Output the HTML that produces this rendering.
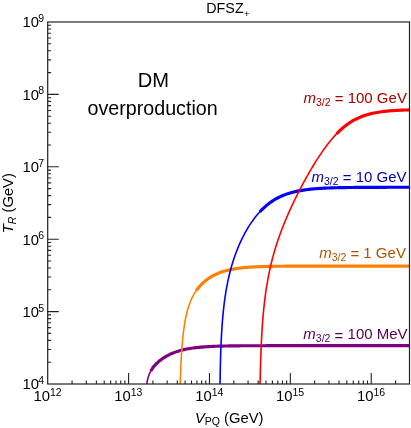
<!DOCTYPE html><html><head><meta charset="utf-8"><title>DFSZ+</title><style>.t,.t text,.t tspan{font-family:"Liberation Sans",sans-serif}html,body{margin:0;padding:0;background:#fff}body{width:411px;height:428px;overflow:hidden;font-family:"Liberation Sans",sans-serif}</style></head><body><svg width="411" height="428" viewBox="0 0 411 428" style="display:block;will-change:transform">
<rect width="411" height="428" fill="#fff"/>
<clipPath id="c"><rect x="47.7" y="22.0" width="361.8" height="362.0"/></clipPath>
<g clip-path="url(#c)" fill="none" stroke-linejoin="round">
<path d="M146.67,385.45 L146.84,383.95 L147.05,382.46 L147.30,380.97 L147.61,379.49 L147.97,378.03 L148.39,376.58 L148.89,375.16 L149.45,373.76 L150.08,372.39 L150.78,371.05 L151.55,369.76 L152.38,368.50 L153.26,367.28 L154.20,366.10 L155.20,364.96 L156.23,363.87 L157.31,362.81 L158.42,361.80 L159.57,360.82 L160.76,359.89 L161.97,358.99 L163.21,358.14 L164.48,357.32 L165.77,356.54 L167.09,355.80 L168.42,355.10 L169.77,354.43 L171.14,353.80 L172.53,353.21 L173.93,352.65 L175.34,352.13 L176.77,351.63 L178.20,351.17 L179.65,350.74 L181.10,350.34 L182.56,349.97 L184.03,349.63 L185.51,349.31 L186.98,349.01 L188.47,348.74 L189.95,348.48 L191.44,348.25 L192.94,348.03 L194.43,347.84 L195.93,347.65 L197.43,347.49 L198.93,347.33 L200.43,347.19 L201.93,347.06 L203.43,346.94 L204.94,346.83 L206.44,346.73 L207.95,346.64 L209.45,346.56 L210.96,346.48 L212.46,346.41 L213.97,346.35 L215.48,346.29 L216.98,346.23 L218.49,346.18 L220.00,346.14 L221.51,346.10 L223.01,346.06 L224.52,346.03 L226.03,346.00 L227.54,345.97 L229.04,345.94 L230.55,345.92 L232.06,345.89 L233.57,345.87 L235.07,345.86 L236.58,345.84 L238.09,345.82 L239.60,345.81 L241.11,345.80 L242.61,345.79 L244.12,345.78 L245.63,345.77 L247.14,345.76 L248.65,345.75 L250.15,345.74 L251.66,345.73 L253.17,345.73 L254.68,345.72 L256.19,345.72 L257.69,345.71 L259.20,345.71 L260.71,345.71 L262.22,345.70 L263.72,345.70 L265.23,345.70 L266.74,345.69 L268.25,345.69 L269.76,345.69 L271.26,345.69 L272.77,345.68 L274.28,345.68 L275.79,345.68 L277.30,345.68 L278.80,345.68 L280.31,345.68 L281.82,345.68 L283.33,345.67 L284.84,345.67 L286.34,345.67 L287.85,345.67 L289.36,345.67 L290.87,345.67 L292.37,345.67 L293.88,345.67 L295.39,345.67 L296.90,345.67 L298.41,345.67 L299.91,345.67 L301.42,345.67 L302.93,345.67 L304.44,345.67 L305.95,345.67 L307.45,345.67 L308.96,345.67 L310.47,345.67 L311.98,345.67 L313.49,345.67 L314.99,345.67 L316.50,345.67 L318.01,345.67 L319.52,345.67 L321.03,345.67 L322.53,345.67 L324.04,345.67 L325.55,345.67 L327.06,345.67 L328.56,345.66 L330.07,345.66 L331.58,345.66 L333.09,345.66 L334.60,345.66 L336.10,345.66 L337.61,345.66 L339.12,345.66 L340.63,345.66 L342.14,345.66 L343.64,345.66 L345.15,345.66 L346.66,345.66 L348.17,345.66 L349.68,345.66 L351.18,345.66 L352.69,345.66 L354.20,345.66 L355.71,345.66 L357.22,345.66 L358.72,345.66 L360.23,345.66 L361.74,345.66 L363.25,345.66 L364.75,345.66 L366.26,345.66 L367.77,345.66 L369.28,345.66 L370.79,345.66 L372.29,345.66 L373.80,345.66 L375.31,345.66 L376.82,345.66 L378.33,345.66 L379.83,345.66 L381.34,345.66 L382.85,345.66 L384.36,345.66 L385.87,345.66 L387.37,345.66 L388.88,345.66 L390.39,345.66 L391.90,345.66 L393.41,345.66 L394.91,345.66 L396.42,345.66 L397.93,345.66 L399.44,345.66 L400.94,345.66 L402.45,345.66 L403.96,345.66 L405.47,345.66 L406.98,345.66 L408.48,345.66 L409.99,345.66 L411.50,345.66" stroke="#800080" stroke-width="1.6"/>
<path d="M150.78,371.05 L151.55,369.76 L152.38,368.50 L153.26,367.28 L154.20,366.10 L155.20,364.96 L156.23,363.87 L157.31,362.81 L158.42,361.80 L159.57,360.82 L160.76,359.89 L161.97,358.99 L163.21,358.14 L164.48,357.32 L165.77,356.54 L167.09,355.80 L168.42,355.10 L169.77,354.43 L171.14,353.80 L172.53,353.21 L173.93,352.65 L175.34,352.13 L176.77,351.63 L178.20,351.17 L179.65,350.74 L181.10,350.34 L182.56,349.97 L184.03,349.63 L185.51,349.31 L186.98,349.01 L188.47,348.74 L189.95,348.48 L191.44,348.25 L192.94,348.03 L194.43,347.84 L195.93,347.65 L197.43,347.49 L198.93,347.33 L200.43,347.19 L201.93,347.06 L203.43,346.94 L204.94,346.83 L206.44,346.73 L207.95,346.64 L209.45,346.56 L210.96,346.48 L212.46,346.41 L213.97,346.35 L215.48,346.29 L216.98,346.23 L218.49,346.18 L220.00,346.14 L221.51,346.10 L223.01,346.06 L224.52,346.03 L226.03,346.00 L227.54,345.97 L229.04,345.94 L230.55,345.92 L232.06,345.89 L233.57,345.87 L235.07,345.86 L236.58,345.84 L238.09,345.82 L239.60,345.81 L241.11,345.80 L242.61,345.79 L244.12,345.78 L245.63,345.77 L247.14,345.76 L248.65,345.75 L250.15,345.74 L251.66,345.73 L253.17,345.73 L254.68,345.72 L256.19,345.72 L257.69,345.71 L259.20,345.71 L260.71,345.71 L262.22,345.70 L263.72,345.70 L265.23,345.70 L266.74,345.69 L268.25,345.69 L269.76,345.69 L271.26,345.69 L272.77,345.68 L274.28,345.68 L275.79,345.68 L277.30,345.68 L278.80,345.68 L280.31,345.68 L281.82,345.68 L283.33,345.67 L284.84,345.67 L286.34,345.67 L287.85,345.67 L289.36,345.67 L290.87,345.67 L292.37,345.67 L293.88,345.67 L295.39,345.67 L296.90,345.67 L298.41,345.67 L299.91,345.67 L301.42,345.67 L302.93,345.67 L304.44,345.67 L305.95,345.67 L307.45,345.67 L308.96,345.67 L310.47,345.67 L311.98,345.67 L313.49,345.67 L314.99,345.67 L316.50,345.67 L318.01,345.67 L319.52,345.67 L321.03,345.67 L322.53,345.67 L324.04,345.67 L325.55,345.67 L327.06,345.67 L328.56,345.66 L330.07,345.66 L331.58,345.66 L333.09,345.66 L334.60,345.66 L336.10,345.66 L337.61,345.66 L339.12,345.66 L340.63,345.66 L342.14,345.66 L343.64,345.66 L345.15,345.66 L346.66,345.66 L348.17,345.66 L349.68,345.66 L351.18,345.66 L352.69,345.66 L354.20,345.66 L355.71,345.66 L357.22,345.66 L358.72,345.66 L360.23,345.66 L361.74,345.66 L363.25,345.66 L364.75,345.66 L366.26,345.66 L367.77,345.66 L369.28,345.66 L370.79,345.66 L372.29,345.66 L373.80,345.66 L375.31,345.66 L376.82,345.66 L378.33,345.66 L379.83,345.66 L381.34,345.66 L382.85,345.66 L384.36,345.66 L385.87,345.66 L387.37,345.66 L388.88,345.66 L390.39,345.66 L391.90,345.66 L393.41,345.66 L394.91,345.66 L396.42,345.66 L397.93,345.66 L399.44,345.66 L400.94,345.66 L402.45,345.66 L403.96,345.66 L405.47,345.66 L406.98,345.66 L408.48,345.66 L409.99,345.66 L411.50,345.66" stroke="#800080" stroke-width="3.15" stroke-linecap="butt"/>
<path d="M180.16,385.45 L180.20,383.95 L180.25,382.45 L180.29,380.95 L180.34,379.45 L180.39,377.95 L180.44,376.45 L180.49,374.95 L180.55,373.45 L180.61,371.95 L180.67,370.45 L180.73,368.95 L180.79,367.45 L180.86,365.95 L180.93,364.45 L181.00,362.95 L181.08,361.45 L181.15,359.95 L181.24,358.45 L181.32,356.95 L181.41,355.46 L181.50,353.96 L181.60,352.46 L181.70,350.96 L181.81,349.46 L181.92,347.97 L182.03,346.47 L182.15,344.97 L182.28,343.48 L182.41,341.98 L182.54,340.49 L182.69,338.99 L182.84,337.50 L182.99,336.01 L183.16,334.52 L183.33,333.03 L183.51,331.54 L183.70,330.05 L183.90,328.56 L184.11,327.07 L184.34,325.59 L184.57,324.11 L184.81,322.62 L185.07,321.15 L185.34,319.67 L185.63,318.20 L185.93,316.73 L186.25,315.26 L186.59,313.80 L186.95,312.34 L187.33,310.89 L187.72,309.44 L188.15,308.00 L188.59,306.57 L189.07,305.14 L189.57,303.73 L190.10,302.32 L190.66,300.93 L191.25,299.55 L191.88,298.19 L192.54,296.84 L193.24,295.51 L193.97,294.20 L194.75,292.92 L195.55,291.65 L196.40,290.41 L197.29,289.20 L198.21,288.02 L199.17,286.86 L200.16,285.74 L201.19,284.64 L202.26,283.59 L203.35,282.56 L204.48,281.57 L205.64,280.62 L206.83,279.70 L208.04,278.82 L209.29,277.98 L210.55,277.17 L211.84,276.41 L213.15,275.68 L214.49,274.98 L215.84,274.33 L217.21,273.71 L218.59,273.13 L219.99,272.59 L221.40,272.08 L222.82,271.60 L224.26,271.16 L225.70,270.75 L227.15,270.36 L228.61,270.01 L230.08,269.68 L231.55,269.38 L233.02,269.10 L234.50,268.84 L235.98,268.60 L237.47,268.39 L238.95,268.19 L240.44,268.00 L241.94,267.84 L243.43,267.68 L244.92,267.54 L246.42,267.41 L247.91,267.29 L249.41,267.19 L250.91,267.09 L252.41,267.00 L253.91,266.92 L255.41,266.84 L256.90,266.77 L258.40,266.71 L259.90,266.66 L261.40,266.60 L262.90,266.56 L264.41,266.51 L265.91,266.47 L267.41,266.44 L268.91,266.41 L270.41,266.38 L271.91,266.35 L273.41,266.33 L274.91,266.30 L276.41,266.28 L277.91,266.26 L279.41,266.25 L280.91,266.23 L282.41,266.22 L283.92,266.20 L285.42,266.19 L286.92,266.18 L288.42,266.17 L289.92,266.16 L291.42,266.16 L292.92,266.15 L294.42,266.14 L295.92,266.14 L297.42,266.13 L298.93,266.13 L300.43,266.12 L301.93,266.12 L303.43,266.11 L304.93,266.11 L306.43,266.11 L307.93,266.10 L309.43,266.10 L310.93,266.10 L312.43,266.10 L313.94,266.10 L315.44,266.09 L316.94,266.09 L318.44,266.09 L319.94,266.09 L321.44,266.09 L322.94,266.09 L324.44,266.09 L325.94,266.08 L327.44,266.08 L328.95,266.08 L330.45,266.08 L331.95,266.08 L333.45,266.08 L334.95,266.08 L336.45,266.08 L337.95,266.08 L339.45,266.08 L340.95,266.08 L342.45,266.08 L343.96,266.08 L345.46,266.08 L346.96,266.08 L348.46,266.08 L349.96,266.08 L351.46,266.08 L352.96,266.08 L354.46,266.08 L355.96,266.08 L357.46,266.08 L358.97,266.08 L360.47,266.08 L361.97,266.08 L363.47,266.08 L364.97,266.08 L366.47,266.08 L367.97,266.08 L369.47,266.08 L370.97,266.08 L372.47,266.08 L373.98,266.08 L375.48,266.08 L376.98,266.08 L378.48,266.08 L379.98,266.08 L381.48,266.08 L382.98,266.08 L384.48,266.08 L385.98,266.08 L387.48,266.08 L388.99,266.08 L390.49,266.08 L391.99,266.08 L393.49,266.08 L394.99,266.08 L396.49,266.08 L397.99,266.08 L399.49,266.08 L400.99,266.08 L402.49,266.08 L404.00,266.08 L405.50,266.08 L407.00,266.08 L408.50,266.08 L410.00,266.08 L411.50,266.08" stroke="#ff8000" stroke-width="1.6"/>
<path d="M196.40,290.41 L197.29,289.20 L198.21,288.02 L199.17,286.86 L200.16,285.74 L201.19,284.64 L202.26,283.59 L203.35,282.56 L204.48,281.57 L205.64,280.62 L206.83,279.70 L208.04,278.82 L209.29,277.98 L210.55,277.17 L211.84,276.41 L213.15,275.68 L214.49,274.98 L215.84,274.33 L217.21,273.71 L218.59,273.13 L219.99,272.59 L221.40,272.08 L222.82,271.60 L224.26,271.16 L225.70,270.75 L227.15,270.36 L228.61,270.01 L230.08,269.68 L231.55,269.38 L233.02,269.10 L234.50,268.84 L235.98,268.60 L237.47,268.39 L238.95,268.19 L240.44,268.00 L241.94,267.84 L243.43,267.68 L244.92,267.54 L246.42,267.41 L247.91,267.29 L249.41,267.19 L250.91,267.09 L252.41,267.00 L253.91,266.92 L255.41,266.84 L256.90,266.77 L258.40,266.71 L259.90,266.66 L261.40,266.60 L262.90,266.56 L264.41,266.51 L265.91,266.47 L267.41,266.44 L268.91,266.41 L270.41,266.38 L271.91,266.35 L273.41,266.33 L274.91,266.30 L276.41,266.28 L277.91,266.26 L279.41,266.25 L280.91,266.23 L282.41,266.22 L283.92,266.20 L285.42,266.19 L286.92,266.18 L288.42,266.17 L289.92,266.16 L291.42,266.16 L292.92,266.15 L294.42,266.14 L295.92,266.14 L297.42,266.13 L298.93,266.13 L300.43,266.12 L301.93,266.12 L303.43,266.11 L304.93,266.11 L306.43,266.11 L307.93,266.10 L309.43,266.10 L310.93,266.10 L312.43,266.10 L313.94,266.10 L315.44,266.09 L316.94,266.09 L318.44,266.09 L319.94,266.09 L321.44,266.09 L322.94,266.09 L324.44,266.09 L325.94,266.08 L327.44,266.08 L328.95,266.08 L330.45,266.08 L331.95,266.08 L333.45,266.08 L334.95,266.08 L336.45,266.08 L337.95,266.08 L339.45,266.08 L340.95,266.08 L342.45,266.08 L343.96,266.08 L345.46,266.08 L346.96,266.08 L348.46,266.08 L349.96,266.08 L351.46,266.08 L352.96,266.08 L354.46,266.08 L355.96,266.08 L357.46,266.08 L358.97,266.08 L360.47,266.08 L361.97,266.08 L363.47,266.08 L364.97,266.08 L366.47,266.08 L367.97,266.08 L369.47,266.08 L370.97,266.08 L372.47,266.08 L373.98,266.08 L375.48,266.08 L376.98,266.08 L378.48,266.08 L379.98,266.08 L381.48,266.08 L382.98,266.08 L384.48,266.08 L385.98,266.08 L387.48,266.08 L388.99,266.08 L390.49,266.08 L391.99,266.08 L393.49,266.08 L394.99,266.08 L396.49,266.08 L397.99,266.08 L399.49,266.08 L400.99,266.08 L402.49,266.08 L404.00,266.08 L405.50,266.08 L407.00,266.08 L408.50,266.08 L410.00,266.08 L411.50,266.08" stroke="#ff8000" stroke-width="3.15" stroke-linecap="butt"/>
<path d="M220.01,385.45 L220.03,383.94 L220.05,382.44 L220.07,380.94 L220.09,379.43 L220.12,377.93 L220.14,376.43 L220.17,374.92 L220.20,373.42 L220.23,371.91 L220.26,370.41 L220.29,368.91 L220.32,367.40 L220.36,365.90 L220.39,364.40 L220.43,362.89 L220.47,361.39 L220.51,359.89 L220.55,358.38 L220.60,356.88 L220.64,355.38 L220.69,353.87 L220.74,352.37 L220.79,350.87 L220.85,349.36 L220.91,347.86 L220.97,346.36 L221.03,344.85 L221.09,343.35 L221.16,341.85 L221.23,340.35 L221.30,338.85 L221.38,337.34 L221.46,335.84 L221.54,334.34 L221.63,332.84 L221.72,331.34 L221.81,329.84 L221.91,328.33 L222.01,326.83 L222.11,325.33 L222.22,323.83 L222.34,322.33 L222.46,320.84 L222.58,319.34 L222.71,317.84 L222.84,316.34 L222.98,314.84 L223.12,313.34 L223.27,311.85 L223.43,310.35 L223.59,308.86 L223.75,307.36 L223.93,305.87 L224.11,304.37 L224.29,302.88 L224.48,301.39 L224.68,299.90 L224.89,298.41 L225.10,296.92 L225.33,295.43 L225.56,293.95 L225.79,292.46 L226.04,290.98 L226.29,289.50 L226.56,288.02 L226.83,286.54 L227.11,285.06 L227.40,283.58 L227.69,282.11 L228.00,280.64 L228.32,279.17 L228.65,277.70 L228.98,276.23 L229.33,274.77 L229.69,273.31 L230.06,271.85 L230.43,270.39 L230.82,268.94 L231.22,267.49 L231.63,266.05 L232.06,264.60 L232.49,263.16 L232.93,261.73 L233.39,260.29 L233.86,258.86 L234.34,257.44 L234.83,256.02 L235.34,254.60 L235.85,253.19 L236.38,251.78 L236.92,250.38 L237.47,248.98 L238.04,247.58 L238.62,246.20 L239.21,244.81 L239.82,243.44 L240.44,242.07 L241.07,240.70 L241.71,239.34 L242.37,237.99 L243.05,236.65 L243.73,235.31 L244.44,233.98 L245.15,232.66 L245.89,231.34 L246.63,230.04 L247.39,228.74 L248.17,227.45 L248.97,226.18 L249.78,224.91 L250.60,223.65 L251.45,222.41 L252.31,221.17 L253.19,219.95 L254.08,218.75 L255.00,217.55 L255.93,216.37 L256.88,215.21 L257.86,214.06 L258.85,212.93 L259.86,211.82 L260.89,210.73 L261.95,209.65 L263.02,208.60 L264.12,207.57 L265.24,206.57 L266.38,205.59 L267.54,204.63 L268.72,203.70 L269.92,202.80 L271.15,201.92 L272.39,201.08 L273.66,200.27 L274.94,199.48 L276.24,198.73 L277.57,198.01 L278.90,197.33 L280.26,196.67 L281.63,196.05 L283.01,195.46 L284.41,194.90 L285.82,194.37 L287.23,193.88 L288.66,193.41 L290.10,192.97 L291.55,192.56 L293.00,192.17 L294.46,191.81 L295.93,191.48 L297.40,191.16 L298.87,190.87 L300.35,190.60 L301.84,190.35 L303.32,190.11 L304.81,189.90 L306.30,189.69 L307.79,189.51 L309.29,189.33 L310.78,189.17 L312.28,189.03 L313.78,188.89 L315.28,188.76 L316.78,188.65 L318.28,188.54 L319.78,188.44 L321.28,188.35 L322.78,188.26 L324.28,188.19 L325.78,188.11 L327.29,188.05 L328.79,187.98 L330.29,187.93 L331.79,187.88 L333.30,187.83 L334.80,187.78 L336.30,187.74 L337.81,187.70 L339.31,187.67 L340.81,187.64 L342.32,187.61 L343.82,187.58 L345.33,187.56 L346.83,187.53 L348.33,187.51 L349.84,187.49 L351.34,187.47 L352.85,187.46 L354.35,187.44 L355.85,187.43 L357.36,187.42 L358.86,187.40 L360.36,187.39 L361.87,187.38 L363.37,187.37 L364.88,187.36 L366.38,187.36 L367.88,187.35 L369.39,187.34 L370.89,187.34 L372.40,187.33 L373.90,187.32 L375.40,187.32 L376.91,187.32 L378.41,187.31 L379.92,187.31 L381.42,187.30 L382.92,187.30 L384.43,187.30 L385.93,187.30 L387.44,187.29 L388.94,187.29 L390.44,187.29 L391.95,187.29 L393.45,187.28 L394.96,187.28 L396.46,187.28 L397.96,187.28 L399.47,187.28 L400.97,187.28 L402.48,187.28 L403.98,187.28 L405.48,187.27 L406.99,187.27 L408.49,187.27 L410.00,187.27 L411.50,187.27" stroke="#0000ff" stroke-width="1.6"/>
<path d="M259.86,211.82 L260.89,210.73 L261.95,209.65 L263.02,208.60 L264.12,207.57 L265.24,206.57 L266.38,205.59 L267.54,204.63 L268.72,203.70 L269.92,202.80 L271.15,201.92 L272.39,201.08 L273.66,200.27 L274.94,199.48 L276.24,198.73 L277.57,198.01 L278.90,197.33 L280.26,196.67 L281.63,196.05 L283.01,195.46 L284.41,194.90 L285.82,194.37 L287.23,193.88 L288.66,193.41 L290.10,192.97 L291.55,192.56 L293.00,192.17 L294.46,191.81 L295.93,191.48 L297.40,191.16 L298.87,190.87 L300.35,190.60 L301.84,190.35 L303.32,190.11 L304.81,189.90 L306.30,189.69 L307.79,189.51 L309.29,189.33 L310.78,189.17 L312.28,189.03 L313.78,188.89 L315.28,188.76 L316.78,188.65 L318.28,188.54 L319.78,188.44 L321.28,188.35 L322.78,188.26 L324.28,188.19 L325.78,188.11 L327.29,188.05 L328.79,187.98 L330.29,187.93 L331.79,187.88 L333.30,187.83 L334.80,187.78 L336.30,187.74 L337.81,187.70 L339.31,187.67 L340.81,187.64 L342.32,187.61 L343.82,187.58 L345.33,187.56 L346.83,187.53 L348.33,187.51 L349.84,187.49 L351.34,187.47 L352.85,187.46 L354.35,187.44 L355.85,187.43 L357.36,187.42 L358.86,187.40 L360.36,187.39 L361.87,187.38 L363.37,187.37 L364.88,187.36 L366.38,187.36 L367.88,187.35 L369.39,187.34 L370.89,187.34 L372.40,187.33 L373.90,187.32 L375.40,187.32 L376.91,187.32 L378.41,187.31 L379.92,187.31 L381.42,187.30 L382.92,187.30 L384.43,187.30 L385.93,187.30 L387.44,187.29 L388.94,187.29 L390.44,187.29 L391.95,187.29 L393.45,187.28 L394.96,187.28 L396.46,187.28 L397.96,187.28 L399.47,187.28 L400.97,187.28 L402.48,187.28 L403.98,187.28 L405.48,187.27 L406.99,187.27 L408.49,187.27 L410.00,187.27 L411.50,187.27" stroke="#0000ff" stroke-width="3.15" stroke-linecap="butt"/>
<path d="M260.06,385.45 L260.08,383.94 L260.11,382.44 L260.14,380.94 L260.17,379.43 L260.20,377.93 L260.23,376.43 L260.27,374.92 L260.30,373.42 L260.34,371.92 L260.37,370.41 L260.41,368.91 L260.45,367.41 L260.49,365.90 L260.54,364.40 L260.58,362.90 L260.63,361.40 L260.67,359.89 L260.72,358.39 L260.77,356.89 L260.83,355.38 L260.88,353.88 L260.94,352.38 L260.99,350.88 L261.06,349.37 L261.12,347.87 L261.18,346.37 L261.25,344.87 L261.32,343.36 L261.39,341.86 L261.46,340.36 L261.54,338.86 L261.62,337.36 L261.70,335.86 L261.79,334.35 L261.88,332.85 L261.97,331.35 L262.06,329.85 L262.16,328.35 L262.26,326.85 L262.36,325.35 L262.47,323.85 L262.58,322.35 L262.70,320.85 L262.81,319.35 L262.94,317.85 L263.06,316.36 L263.19,314.86 L263.33,313.36 L263.47,311.86 L263.61,310.37 L263.76,308.87 L263.91,307.37 L264.07,305.88 L264.24,304.38 L264.40,302.89 L264.58,301.40 L264.76,299.90 L264.94,298.41 L265.13,296.92 L265.33,295.43 L265.53,293.94 L265.74,292.45 L265.95,290.96 L266.17,289.47 L266.40,287.99 L266.63,286.50 L266.87,285.02 L267.12,283.53 L267.38,282.05 L267.64,280.57 L267.90,279.09 L268.18,277.61 L268.46,276.13 L268.75,274.66 L269.05,273.19 L269.36,271.71 L269.67,270.24 L269.99,268.77 L270.32,267.31 L270.66,265.84 L271.00,264.38 L271.35,262.91 L271.71,261.45 L272.08,260.00 L272.46,258.54 L272.84,257.09 L273.23,255.64 L273.63,254.19 L274.04,252.74 L274.46,251.29 L274.89,249.85 L275.32,248.41 L275.76,246.97 L276.21,245.54 L276.66,244.11 L277.13,242.68 L277.60,241.25 L278.08,239.82 L278.57,238.40 L279.06,236.98 L279.56,235.56 L280.07,234.15 L280.59,232.74 L281.11,231.33 L281.64,229.92 L282.18,228.51 L282.72,227.11 L283.27,225.71 L283.83,224.32 L284.39,222.92 L284.96,221.53 L285.54,220.14 L286.12,218.75 L286.71,217.37 L287.30,215.99 L287.90,214.61 L288.51,213.23 L289.12,211.86 L289.73,210.49 L290.35,209.12 L290.98,207.75 L291.61,206.38 L292.24,205.02 L292.89,203.66 L293.53,202.30 L294.18,200.95 L294.84,199.59 L295.50,198.24 L296.16,196.89 L296.83,195.55 L297.51,194.20 L298.18,192.86 L298.87,191.52 L299.55,190.18 L300.24,188.85 L300.94,187.52 L301.64,186.19 L302.35,184.86 L303.05,183.53 L303.77,182.21 L304.49,180.89 L305.21,179.57 L305.94,178.25 L306.67,176.94 L307.41,175.63 L308.15,174.32 L308.89,173.01 L309.65,171.71 L310.40,170.41 L311.16,169.12 L311.93,167.82 L312.70,166.53 L313.48,165.25 L314.27,163.96 L315.06,162.68 L315.85,161.41 L316.66,160.14 L317.47,158.87 L318.28,157.61 L319.11,156.35 L319.94,155.10 L320.78,153.85 L321.63,152.61 L322.48,151.37 L323.35,150.14 L324.22,148.92 L325.10,147.70 L326.00,146.49 L326.90,145.29 L327.82,144.09 L328.74,142.91 L329.68,141.73 L330.63,140.57 L331.59,139.41 L332.57,138.27 L333.56,137.14 L334.56,136.02 L335.58,134.91 L336.62,133.82 L337.67,132.75 L338.74,131.69 L339.82,130.65 L340.93,129.63 L342.05,128.63 L343.19,127.65 L344.35,126.69 L345.53,125.75 L346.72,124.85 L347.94,123.96 L349.18,123.11 L350.43,122.28 L351.71,121.48 L353.00,120.72 L354.31,119.98 L355.64,119.28 L356.99,118.61 L358.35,117.97 L359.73,117.36 L361.12,116.79 L362.52,116.25 L363.93,115.74 L365.36,115.26 L366.80,114.81 L368.24,114.40 L369.69,114.01 L371.15,113.64 L372.62,113.31 L374.09,112.99 L375.56,112.71 L377.04,112.44 L378.53,112.19 L380.01,111.96 L381.50,111.75 L382.99,111.56 L384.49,111.38 L385.98,111.22 L387.48,111.07 L388.97,110.93 L390.47,110.80 L391.97,110.69 L393.47,110.58 L394.97,110.48 L396.47,110.39 L397.98,110.31 L399.48,110.24 L400.98,110.17 L402.48,110.11 L403.98,110.05 L405.49,110.00 L406.99,109.95 L408.49,109.90 L410.00,109.86 L411.50,109.83" stroke="#ff0000" stroke-width="1.6"/>
<path d="M336.62,133.82 L337.67,132.75 L338.74,131.69 L339.82,130.65 L340.93,129.63 L342.05,128.63 L343.19,127.65 L344.35,126.69 L345.53,125.75 L346.72,124.85 L347.94,123.96 L349.18,123.11 L350.43,122.28 L351.71,121.48 L353.00,120.72 L354.31,119.98 L355.64,119.28 L356.99,118.61 L358.35,117.97 L359.73,117.36 L361.12,116.79 L362.52,116.25 L363.93,115.74 L365.36,115.26 L366.80,114.81 L368.24,114.40 L369.69,114.01 L371.15,113.64 L372.62,113.31 L374.09,112.99 L375.56,112.71 L377.04,112.44 L378.53,112.19 L380.01,111.96 L381.50,111.75 L382.99,111.56 L384.49,111.38 L385.98,111.22 L387.48,111.07 L388.97,110.93 L390.47,110.80 L391.97,110.69 L393.47,110.58 L394.97,110.48 L396.47,110.39 L397.98,110.31 L399.48,110.24 L400.98,110.17 L402.48,110.11 L403.98,110.05 L405.49,110.00 L406.99,109.95 L408.49,109.90 L410.00,109.86 L411.50,109.83" stroke="#ff0000" stroke-width="3.15" stroke-linecap="butt"/>
</g>
<rect x="47.7" y="22.0" width="361.8" height="362.0" fill="none" stroke="#222222" stroke-width="1.2"/>
<path d="M72.05,384.0v-3.4 M86.29,384.0v-3.4 M96.39,384.0v-3.4 M104.23,384.0v-3.4 M110.64,384.0v-3.4 M116.05,384.0v-3.4 M120.74,384.0v-3.4 M124.88,384.0v-3.4 M128.58,384.0v-11.1 M152.93,384.0v-3.4 M167.17,384.0v-3.4 M177.27,384.0v-3.4 M185.11,384.0v-3.4 M191.52,384.0v-3.4 M196.93,384.0v-3.4 M201.62,384.0v-3.4 M205.76,384.0v-3.4 M209.46,384.0v-11.1 M233.81,384.0v-3.4 M248.05,384.0v-3.4 M258.15,384.0v-3.4 M265.99,384.0v-3.4 M272.40,384.0v-3.4 M277.81,384.0v-3.4 M282.50,384.0v-3.4 M286.64,384.0v-3.4 M290.34,384.0v-11.1 M314.69,384.0v-3.4 M328.93,384.0v-3.4 M339.03,384.0v-3.4 M346.87,384.0v-3.4 M353.28,384.0v-3.4 M358.69,384.0v-3.4 M363.38,384.0v-3.4 M367.52,384.0v-3.4 M371.22,384.0v-11.1 M395.57,384.0v-3.4 M47.7,362.21h3.4 M47.7,349.46h3.4 M47.7,340.41h3.4 M47.7,333.39h3.4 M47.7,327.66h3.4 M47.7,322.81h3.4 M47.7,318.62h3.4 M47.7,314.91h3.4 M47.7,311.60h11.1 M47.7,289.81h3.4 M47.7,277.06h3.4 M47.7,268.01h3.4 M47.7,260.99h3.4 M47.7,255.26h3.4 M47.7,250.41h3.4 M47.7,246.22h3.4 M47.7,242.51h3.4 M47.7,239.20h11.1 M47.7,217.41h3.4 M47.7,204.66h3.4 M47.7,195.61h3.4 M47.7,188.59h3.4 M47.7,182.86h3.4 M47.7,178.01h3.4 M47.7,173.82h3.4 M47.7,170.11h3.4 M47.7,166.80h11.1 M47.7,145.01h3.4 M47.7,132.26h3.4 M47.7,123.21h3.4 M47.7,116.19h3.4 M47.7,110.46h3.4 M47.7,105.61h3.4 M47.7,101.42h3.4 M47.7,97.71h3.4 M47.7,94.40h11.1 M47.7,72.61h3.4 M47.7,59.86h3.4 M47.7,50.81h3.4 M47.7,43.79h3.4 M47.7,38.06h3.4 M47.7,33.21h3.4 M47.7,29.02h3.4 M47.7,25.31h3.4" stroke="#222222" stroke-width="1.1" fill="none"/>
<g class="t" fill="#000000" font-size="14.8">
<text x="33.43" y="401.20">10<tspan font-size="10.5" dx="0" dy="-5.5">12</tspan></text>
<text x="114.31" y="401.20">10<tspan font-size="10.5" dx="0" dy="-5.5">13</tspan></text>
<text x="195.19" y="401.20">10<tspan font-size="10.5" dx="0" dy="-5.5">14</tspan></text>
<text x="276.07" y="401.20">10<tspan font-size="10.5" dx="0" dy="-5.5">15</tspan></text>
<text x="356.95" y="401.20">10<tspan font-size="10.5" dx="0" dy="-5.5">16</tspan></text>
<text x="22.50" y="389.40">10<tspan font-size="10.5" dx="-0.6" dy="-5.5">4</tspan></text>
<text x="22.50" y="317.00">10<tspan font-size="10.5" dx="-0.6" dy="-5.5">5</tspan></text>
<text x="22.50" y="244.60">10<tspan font-size="10.5" dx="-0.6" dy="-5.5">6</tspan></text>
<text x="22.50" y="172.20">10<tspan font-size="10.5" dx="-0.6" dy="-5.5">7</tspan></text>
<text x="22.50" y="99.80">10<tspan font-size="10.5" dx="-0.6" dy="-5.5">8</tspan></text>
<text x="22.50" y="27.40">10<tspan font-size="10.5" dx="-0.6" dy="-5.5">9</tspan></text>
<text x="206.3" y="12.8" font-size="14.3">DFSZ<tspan font-size="9.6" dx="0.3" dy="4.6">+</tspan></text>
<text x="194.9" y="422.6"><tspan font-style="italic">V</tspan><tspan font-size="10.5" dy="2.6">PQ</tspan><tspan dy="-2.6"> (GeV)</tspan></text>
<text transform="translate(13.0,233.3) rotate(-90)"><tspan font-style="italic">T</tspan><tspan font-size="10.5" font-style="italic" dy="2.6">R</tspan><tspan dy="-2.6"> (GeV)</tspan></text>
<text font-size="20.1" text-anchor="middle" x="153.3" y="86.8">DM</text>
<text font-size="19.7" text-anchor="middle" x="152.6" y="115.1">overproduction</text>
<text font-size="15" text-anchor="end" x="406.9" y="102.6" fill="#aa0000"><tspan font-style="italic">m</tspan><tspan font-size="10.5" dy="3">3/2</tspan><tspan dy="-1.9"> = </tspan><tspan dy="-1.1">100 GeV</tspan></text>
<text font-size="15" text-anchor="end" x="406.5" y="181.9" fill="#0000aa"><tspan font-style="italic">m</tspan><tspan font-size="10.5" dy="3">3/2</tspan><tspan dy="-1.9"> = </tspan><tspan dy="-1.1">10 GeV</tspan></text>
<text font-size="15" text-anchor="end" x="405.9" y="258.3" fill="#aa5500"><tspan font-style="italic">m</tspan><tspan font-size="10.5" dy="3">3/2</tspan><tspan dy="-1.9"> = </tspan><tspan dy="-1.1">1 GeV</tspan></text>
<text font-size="15" text-anchor="end" x="407.6" y="339.4" fill="#550055"><tspan font-style="italic">m</tspan><tspan font-size="10.5" dy="3">3/2</tspan><tspan dy="-1.9"> = </tspan><tspan dy="-1.1">100 MeV</tspan></text>
</g>
</svg></body></html>
